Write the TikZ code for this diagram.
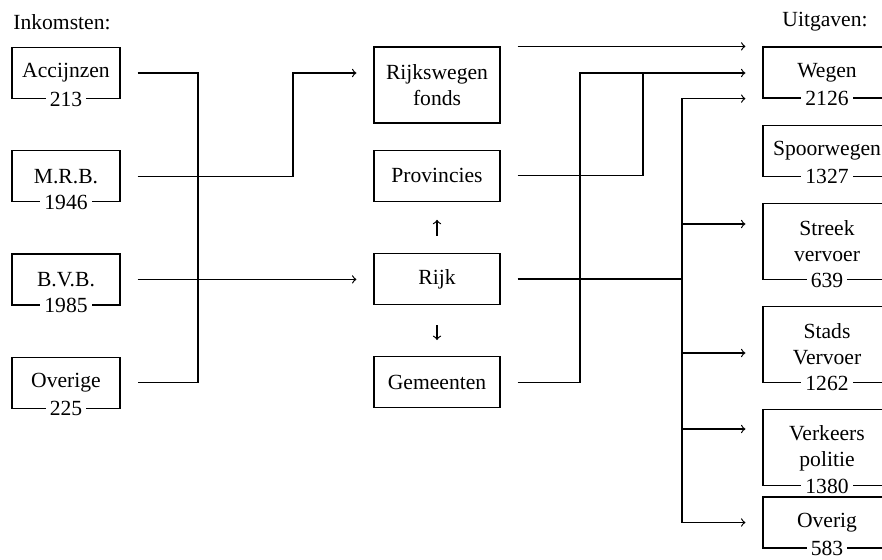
\documentclass[tikz,border=0pt]{standalone}
\usepackage{fontspec}
\setmainfont{Liberation Serif}
\usetikzlibrary{positioning}

\begin{document}
\begin{tikzpicture}[
x=0.5pt, y=-0.5pt,
font=\fontsize{10.8pt}{13pt}\selectfont,
box/.style={rectangle, draw=black, line width=0.6pt, inner sep=0pt, minimum height=25.5pt, align=center},
in_box/.style={box, minimum width=54pt},
mid_box/.style={box, minimum width=63pt},
out_box/.style={box, minimum width=64pt},
tall/.style={minimum height=38pt},
amount/.style={fill=white, inner xsep=2pt, inner ysep=0.5pt},
flow/.style={line width=0.6pt},
from_box/.style={shorten <=8.5pt},
to_box/.style={->, shorten >=8.5pt},
]
\path[use as bounding box, clip] (0,0) rectangle (882,559);

% headings
\node(inkomsten_label) at (62,22){Inkomsten:};
\node(uitgaven_label) at (825,22){Uitgaven:};

% income
\node[in_box](accijnzen_box) at (66,73){Accijnzen};
\node[in_box](mrb_box)[below=25.5pt of accijnzen_box]{M.R.B.};
\node[in_box](bvb_box)[below=25.5pt of mrb_box]{B.V.B.};
\node[in_box](overige_box)[below=25.5pt of bvb_box]{Overige};

\node[amount](accijnzen_amount) at (accijnzen_box.south){213};
\node[amount](mrb_amount) at (mrb_box.south){1946};
\node[amount](bvb_amount) at (bvb_box.south){1985};
\node[amount](overige_amount) at (overige_box.south){225};

% middle
\node[mid_box, tall](fonds_box) at (437,85){Rijkswegen\\fonds};
\node[mid_box](provincies_box)[below=13pt of fonds_box]{Provincies};
\node[mid_box](rijk_box)[below=25.5pt of provincies_box]{Rijk};
\node[mid_box](gemeenten_box)[below=25.5pt of rijk_box]{Gemeenten};

% expenditure
\node[out_box](wegen_box) at (827,72.5){Wegen};
\node[out_box](spoorwegen_box)[below=13pt of wegen_box]{Spoorwegen};
\node[out_box, tall](streek_box)[below=13pt of spoorwegen_box]{Streek\\vervoer};
\node[out_box, tall](stads_box)[below=13pt of streek_box]{Stads\\Vervoer};
\node[out_box, tall](verkeers_box)[below=13pt of stads_box]{Verkeers\\politie};
\node[out_box](overig_box)[below=5pt of verkeers_box]{Overig};

\node[amount](wegen_amount) at (wegen_box.south){2126};
\node[amount](spoorwegen_amount) at (spoorwegen_box.south){1327};
\node[amount](streek_amount) at (streek_box.south){639};
\node[amount](stads_amount) at (stads_box.south){1262};
\node[amount](verkeers_amount) at (verkeers_box.south){1380};
\node[amount](overig_amount) at (overig_box.south){583};

% turning points
\coordinate(in_bus) at (198,0);
\coordinate(fonds_turn) at (293,73);
\coordinate(gem_turn) at (580,73);
\coordinate(prov_turn) at (643,73);
\coordinate(out_bus) at (682,0);
\coordinate(streek_fork) at (682,224);
\coordinate(stads_fork) at (682,353);
\coordinate(verkeers_fork) at (682,429);

% left side
\draw[flow, from_box, shorten >=8.5pt] (accijnzen_box.east) -| (in_bus |- overige_box.east) -- (overige_box.east);
\draw[flow, from_box, to_box] (mrb_box.east) -| (fonds_turn) -- (fonds_turn -| fonds_box.west);
\draw[flow, from_box, to_box] (bvb_box.east) -- (bvb_box.east -| rijk_box.west);

\draw[flow, ->, shorten <=8.5pt, shorten >=9pt] (rijk_box.north) -- (provincies_box.south);
\draw[flow, ->, shorten <=10pt, shorten >=8pt] (rijk_box.south) -- (gemeenten_box.north);

% right side
\draw[flow, from_box, to_box] (fonds_box.north east) -- (wegen_box.north west);
\draw[flow, from_box, to_box] (gemeenten_box.east) -| (gem_turn) -- (gem_turn -| wegen_box.west);
\draw[flow, from_box] (provincies_box.east) -| (prov_turn);

\draw[flow, from_box] (rijk_box.east) -- (rijk_box.east -| out_bus);
\draw[flow, to_box] (out_bus |- overig_box.west) |- (wegen_box.south west);
\draw[flow, to_box] (out_bus |- overig_box.west) -- (overig_box.west);
\draw[flow, to_box] (streek_fork) -- (streek_fork -| streek_box.west);
\draw[flow, to_box] (stads_fork) -- (stads_fork -| stads_box.west);
\draw[flow, to_box] (verkeers_fork) -- (verkeers_fork -| verkeers_box.west);

\end{tikzpicture}
\end{document}
